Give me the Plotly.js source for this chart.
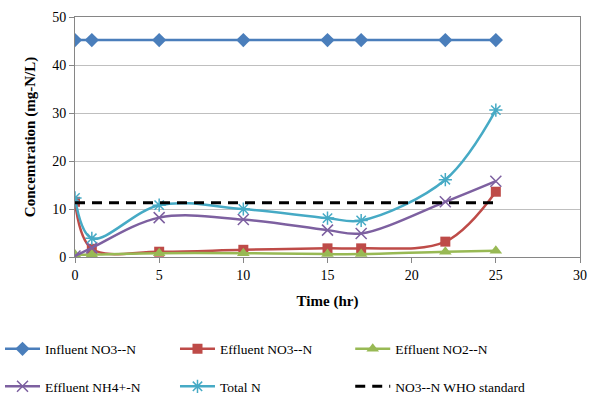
<!DOCTYPE html>
<html>
<head>
<meta charset="utf-8">
<script src="https://cdn.plot.ly/plotly-3.0.1.min.js"></script>
<style>html,body{margin:0;padding:0;background:#fff;}</style>
</head>
<body>
<div id="chart" style="width:601px;height:396px;"></div>
<script>
const timeHr = [0, 1, 5, 10, 15, 17, 22, 25];
const influentNO3 = [45.2, 45.2, 45.2, 45.2, 45.2, 45.2, 45.2, 45.2];
const effluentNO3 = [11.5, 1.7, 1.1, 1.5, 1.8, 1.8, 3.2, 13.6];
const effluentNO2 = [0.5, 0.5, 0.8, 0.8, 0.6, 0.6, 1.1, 1.3];
const effluentNH4 = [0.2, 1.9, 8.2, 7.8, 5.6, 4.9, 11.5, 15.8];
const totalN = [12.3, 3.9, 10.8, 10.0, 8.1, 7.6, 16.1, 30.6];
const whoX = [0, 25];
const whoY = [11.3, 11.3];
const xTicks = [0, 5, 10, 15, 20, 25, 30];
const yTicks = [0, 10, 20, 30, 40, 50];

const serif = "Times New Roman, Liberation Serif, serif";

const traces = [
  {x: timeHr, y: influentNO3, name: 'Influent NO3--N', mode: 'lines+markers',
   line: {color: '#4A7EBB', width: 2.5, shape: 'spline'},
   marker: {symbol: 'diamond', size: 11, color: '#4A7EBB'}, legend: 'legend', legendgroup: 'a'},
  {x: timeHr, y: effluentNO3, name: 'Effluent NO3--N', mode: 'lines+markers',
   line: {color: '#BE4B48', width: 2.5, shape: 'spline'},
   marker: {symbol: 'square', size: 10, color: '#BE4B48'}, legend: 'legend2', legendgroup: 'b'},
  {x: timeHr, y: effluentNO2, name: 'Effluent NO2--N', mode: 'lines+markers',
   line: {color: '#98B954', width: 2.5, shape: 'spline'},
   marker: {symbol: 'triangle-up', size: 11, color: '#98B954'}, legend: 'legend3', legendgroup: 'c'},
  {x: timeHr, y: effluentNH4, name: 'Effluent NH4+-N', mode: 'lines+markers',
   line: {color: '#7D60A0', width: 2.5, shape: 'spline'},
   marker: {symbol: 'x-thin-open', size: 11, color: '#7D60A0', line: {width: 1.5, color: '#7D60A0'}}, legend: 'legend', legendgroup: 'd'},
  {x: timeHr, y: totalN, name: 'Total N', mode: 'lines+markers',
   line: {color: '#46AAC5', width: 2.5, shape: 'spline'},
   marker: {symbol: 'asterisk-open', size: 11, color: '#46AAC5', line: {width: 1.5, color: '#46AAC5'}}, legend: 'legend2', legendgroup: 'e'},
  {x: whoX, y: whoY, name: 'NO3--N WHO standard', mode: 'lines',
   line: {color: '#000000', width: 3, dash: '10px,7px'}, legend: 'legend3', legendgroup: 'f'}
];

const legendCommon = {
  orientation: 'v', xanchor: 'left', yanchor: 'middle',
  xref: 'paper', yref: 'container', y: 0.0707,
  font: {family: serif, size: 13.5, color: '#000'},
  itemwidth: 35, tracegroupgap: 17, traceorder: 'grouped',
  bgcolor: 'rgba(0,0,0,0)', borderwidth: 0
};

const layout = {
  width: 601, height: 396,
  margin: {l: 75, r: 21, t: 17, b: 139},
  paper_bgcolor: '#fff', plot_bgcolor: '#fff',
  font: {family: serif, color: '#000', size: 14},
  showlegend: true,
  xaxis: {
    range: [0, 30], tickvals: xTicks, ticks: 'outside', ticklen: 5, tickcolor: '#868686',
    showgrid: false, zeroline: false, showline: true, linecolor: '#868686', linewidth: 1, mirror: true,
    tickfont: {family: serif, size: 14, color: '#000'},
    title: {text: '<b>Time (hr)</b>', font: {family: serif, size: 15, color: '#000'}, standoff: 13}
  },
  yaxis: {
    range: [0, 50], tickvals: yTicks, ticks: 'outside', ticklen: 5, tickcolor: '#868686',
    showgrid: true, gridcolor: '#BFBFBF', gridwidth: 1, zeroline: false,
    showline: true, linecolor: '#868686', linewidth: 1, mirror: true,
    tickfont: {family: serif, size: 14, color: '#000'},
    title: {text: '<b>Concemtration (mg-N/L)</b>', font: {family: serif, size: 15, color: '#000'}, standoff: 12}
  },
  legend: Object.assign({}, legendCommon, {x: -0.1485}),
  legend2: Object.assign({}, legendCommon, {x: 0.198}),
  legend3: Object.assign({}, legendCommon, {x: 0.545})
};

Plotly.newPlot('chart', traces, layout, {displayModeBar: false, staticPlot: true});
</script>
</body>
</html>
